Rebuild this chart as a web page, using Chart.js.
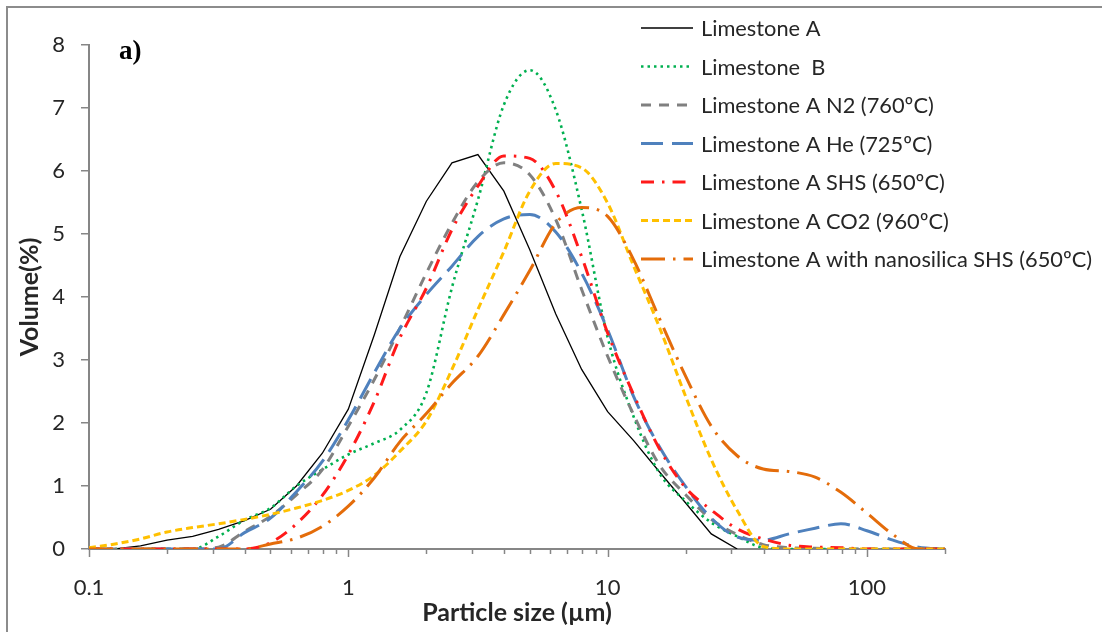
<!DOCTYPE html>
<html>
<head>
<meta charset="utf-8">
<script src="https://cdn.jsdelivr.net/npm/chart.js@4.4.0/dist/chart.umd.min.js"></script>
<style>
  html, body { margin: 0; padding: 0; background: #fff; }
  #wrap { position: relative; width: 1102px; height: 632px; }
</style>
</head>
<body>
<div id="wrap">
  <canvas id="psd" width="1102" height="632"></canvas>
</div>
<script>
// particle size grid (µm), 10 points per decade
const sizes = [0.1, 0.126, 0.158, 0.2, 0.251, 0.316, 0.398, 0.501, 0.631, 0.794,
  1, 1.26, 1.58, 2, 2.51, 3.16, 3.98, 5.01, 6.31, 7.94,
  10, 12.6, 15.8, 20, 25.1, 31.6, 39.8, 50.1, 63.1, 79.4,
  100, 126, 158, 200];

// volume (%) per size
const limestoneA = [0, 0, 0.05, 0.14, 0.2, 0.31, 0.45, 0.63, 1.0, 1.52,
  2.22, 3.4, 4.64, 5.52, 6.13, 6.26, 5.68, 4.75, 3.73, 2.85,
  2.18, 1.72, 1.23, 0.73, 0.24, 0, null, null, null, null,
  null, null, null, null];
const limestoneB = [0, 0, 0, 0, 0, 0.2, 0.46, 0.65, 1.0, 1.26,
  1.5, 1.68, 1.89, 2.48, 4.15, 5.54, 7.05, 7.6, 6.97, 5.39,
  3.36, 2.1, 1.21, 0.76, 0.42, 0.2, 0.02, 0, 0, 0,
  0, 0, 0, 0];
const limestoneN2 = [0, 0, 0, 0, 0, 0.03, 0.28, 0.52, 0.86, 1.26,
  1.95, 2.69, 3.5, 4.38, 5.17, 5.83, 6.13, 5.94, 5.23, 4.12,
  3.06, 2.13, 1.34, 0.86, 0.47, 0.23, 0.07, 0.02, 0.01, 0,
  0, 0, 0, 0];
const limestoneHe = [0, 0, 0, 0, 0, 0, 0.26, 0.49, 0.91, 1.39,
  2.05, 2.8, 3.5, 4.04, 4.49, 4.96, 5.24, 5.31, 5.03, 4.38,
  3.48, 2.42, 1.63, 0.99, 0.49, 0.19, 0.14, 0.24, 0.33, 0.4,
  0.29, 0.14, 0.03, 0];
const limestoneSHS = [0, 0, 0, 0, 0, 0, 0, 0.1, 0.4, 0.85,
  1.5, 2.34, 3.35, 4.14, 5.07, 5.76, 6.24, 6.2, 5.68, 4.64,
  3.43, 2.45, 1.6, 0.97, 0.62, 0.32, 0.16, 0.06, 0.03, 0.02,
  0, 0, 0, 0];
const limestoneCO2 = [0.02, 0.08, 0.16, 0.27, 0.34, 0.4, 0.47, 0.55, 0.65, 0.77,
  0.93, 1.17, 1.55, 2.03, 2.85, 3.8, 4.72, 5.68, 6.12, 6.05,
  5.49, 4.49, 3.53, 2.42, 1.42, 0.61, 0.04, 0, 0, 0,
  0, 0, 0, 0];
const nanosilicaSHS = [0, 0, 0, 0, 0, 0, 0, 0.08, 0.17, 0.36,
  0.68, 1.13, 1.7, 2.15, 2.63, 3.06, 3.72, 4.42, 5.17, 5.42,
  5.28, 4.59, 3.67, 2.74, 1.95, 1.48, 1.27, 1.23, 1.14, 0.9,
  0.57, 0.23, 0, 0];

const seriesNames = ['Limestone A', 'Limestone  B', 'Limestone A N2 (760ºC)',
  'Limestone A He (725ºC)', 'Limestone A SHS (650ºC)', 'Limestone A CO2 (960ºC)',
  'Limestone A with nanosilica SHS (650ºC)'];

const xLabelTicks = [0.1, 1, 10, 100];
const xMinorTicks = [0.2, 0.3, 0.4, 0.5, 0.6, 0.7, 0.8, 0.9,
  2, 3, 4, 5, 6, 7, 8, 9, 20, 30, 40, 50, 60, 70, 80, 90, 200];

const FONT = 'Lato';
const AXIS = '#868686';
const TEXT = '#262626';

function pts(values) {
  return sizes.map((s, i) => ({ x: s, y: values[i] }));
}

const styles = [
  { color: '#000000', width: 1.3, dash: [], tension: 0 },
  { color: '#00B050', width: 2.6, dash: [2.5, 4], tension: 0.4 },
  { color: '#808080', width: 3, dash: [10, 8], tension: 0.4 },
  { color: '#4F81BD', width: 3, dash: [22, 9], tension: 0.4 },
  { color: '#FF1A1A', width: 3, dash: [13, 8, 2.5, 8], tension: 0.4 },
  { color: '#FFC000', width: 3, dash: [7, 4], tension: 0.4 },
  { color: '#E46C0A', width: 3, dash: [24, 8, 2.5, 8], tension: 0.4 },
];
const allSeries = [limestoneA, limestoneB, limestoneN2, limestoneHe,
  limestoneSHS, limestoneCO2, nanosilicaSHS];

const datasets = allSeries.map((vals, i) => ({
  label: seriesNames[i],
  data: pts(vals),
  borderColor: styles[i].color,
  backgroundColor: styles[i].color,
  borderWidth: styles[i].width,
  borderDash: styles[i].dash,
  pointRadius: 0,
  cubicInterpolationMode: styles[i].tension ? 'monotone' : 'default',
  tension: styles[i].tension,
  spanGaps: false,
  order: allSeries.length - i, // later series on top, like Excel
}));

// minor tick marks, legend, panel tag and frame
const decor = {
  id: 'decor',
  beforeDraw(chart) {
    const c = chart.ctx;
    c.save();
    c.strokeStyle = '#8c8c8c';
    c.lineWidth = 2;
    c.beginPath();
    c.moveTo(7, 640);
    c.lineTo(7, 7);
    c.lineTo(1110, 7);
    c.stroke();
    c.restore();
  },
  afterDraw(chart) {
    const c = chart.ctx;
    const xs = chart.scales.x;
    const bottom = chart.chartArea.bottom;
    c.save();
    c.strokeStyle = AXIS;
    c.lineWidth = 1.5;
    xLabelTicks.concat(xMinorTicks).forEach(v => {
      const px = Math.round(xs.getPixelForValue(v)) + 0.5;
      const len = xLabelTicks.includes(v) ? 8 : 5;
      c.beginPath();
      c.moveTo(px, bottom);
      c.lineTo(px, bottom + len);
      c.stroke();
    });

    // legend
    c.textBaseline = 'middle';
    c.textAlign = 'left';
    c.font = '21.8px ' + FONT;
    chart.data.datasets.forEach((ds, i) => {
      const y = 28 + i * 38.5;
      c.strokeStyle = ds.borderColor;
      c.lineWidth = ds.borderWidth;
      c.setLineDash(ds.borderDash);
      c.beginPath();
      c.moveTo(641, y);
      c.lineTo(693, y);
      c.stroke();
      c.setLineDash([]);
      c.fillStyle = TEXT;
      c.fillText(ds.label, 701, y + 1);
    });

    c.font = 'bold 27px "Liberation Serif"';
    c.fillStyle = '#000';
    c.textBaseline = 'alphabetic';
    c.fillText('a)', 119, 59);
    c.restore();
  }
};

new Chart(document.getElementById('psd'), {
  type: 'line',
  data: { datasets },
  plugins: [decor],
  options: {
    responsive: false,
    animation: false,
    layout: { padding: { left: 0, right: 157, top: 45, bottom: 0 } },
    plugins: { legend: { display: false }, tooltip: { enabled: false } },
    scales: {
      x: {
        type: 'logarithmic',
        min: 0.1,
        max: 200,
        afterBuildTicks(scale) {
          scale.ticks = xLabelTicks.concat(xMinorTicks)
            .sort((a, b) => a - b).map(v => ({ value: v }));
        },
        afterFit(scale) { scale.height = 83; },
        ticks: {
          autoSkip: false,
          maxRotation: 0,
          padding: 18,
          color: TEXT,
          font: { family: FONT, size: 22 },
          callback: (v) => xLabelTicks.includes(v) ? String(v) : ''
        },
        grid: { drawOnChartArea: false, drawTicks: true, tickLength: 8, color: 'rgba(0,0,0,0)' },
        border: { color: AXIS, width: 2 },
        title: {
          display: true,
          text: 'Particle size (µm)',
          color: TEXT,
          font: { family: FONT, size: 25, weight: 'bold' },
          padding: { top: 0, bottom: 4 }
        }
      },
      y: {
        min: 0,
        max: 8,
        afterFit(scale) { scale.width = 89; },
        ticks: {
          stepSize: 1,
          padding: 16,
          color: TEXT,
          font: { family: FONT, size: 22 }
        },
        grid: { drawOnChartArea: false, drawTicks: true, tickLength: 8, color: AXIS, lineWidth: 1.5 },
        border: { color: AXIS, width: 2 },
        title: {
          display: true,
          text: 'Volume(%)',
          color: TEXT,
          font: { family: FONT, size: 25, weight: 'bold' },
          padding: { top: 15, bottom: 0 }
        }
      }
    }
  }
});
</script>
</body>
</html>
